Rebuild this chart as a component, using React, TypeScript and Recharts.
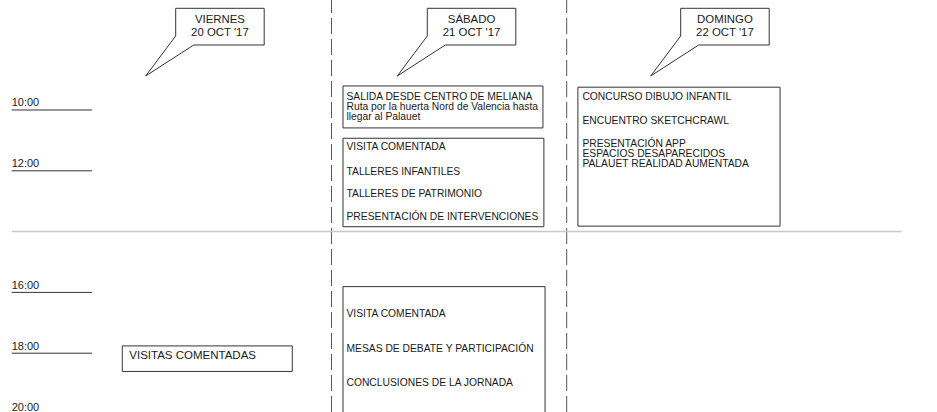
import {
  ComposedChart,
  XAxis,
  YAxis,
  ReferenceLine,
  ReferenceArea,
  Line,
  Scatter
} from "recharts";

const FONT = "'Liberation Sans', Arial, Helvetica, sans-serif";

// days of the programme (one column each)
const dayNames = ["VIERNES", "SÁBADO", "DOMINGO"];
const dayDates = ["20 OCT '17", "21 OCT '17", "22 OCT '17"];

// hour guides on the left
const hourTicks = [10, 12, 16, 18, 20];
const hourLabels = ["10:00", "12:00", "16:00", "18:00", "20:00"];
const breakHour = 14;

// time blocks: day index, start hour, end hour
const blockDays = [0, 1, 1, 2, 1];
const blockStarts = [17.76, 9.21, 10.93, 9.25, 15.81];
const blockEnds = [18.6, 10.59, 13.84, 13.82, 20.6];

// activities inside the blocks
const activityBlocks = [0, 1, 2, 2, 2, 2, 3, 3, 3, 4, 4, 4];
const activityHours = [18.06, 9.54, 11.21, 12.0, 12.74, 13.51, 9.54, 10.33, 11.1, 16.69, 17.84, 18.97];
const activityLabels = [
  ["VISITAS COMENTADAS"],
  ["SALIDA DESDE CENTRO DE MELIANA", "Ruta por la huerta Nord de Valencia hasta", "llegar al Palauet"],
  ["VISITA COMENTADA"],
  ["TALLERES INFANTILES"],
  ["TALLERES DE PATRIMONIO"],
  ["PRESENTACIÓN DE INTERVENCIONES"],
  ["CONCURSO DIBUJO INFANTIL"],
  ["ENCUENTRO SKETCHCRAWL"],
  ["PRESENTACIÓN APP", "ESPACIOS DESAPARECIDOS", "PALAUET REALIDAD AUMENTADA"],
  ["VISITA COMENTADA"],
  ["MESAS DE DEBATE Y PARTICIPACIÓN"],
  ["CONCLUSIONES DE LA JORNADA"]
];

// ---- layout (axis units: days on x, hours on y) ----
const X_DOMAIN = [-0.4094, 3.5744];
const Y_DOMAIN = [6.382, 19.934];
const TICK_SPAN = [-0.3597, -0.0183];
const BREAK_SPAN = [-0.3584, 3.4243];
const blockInsets = [
  [0.1105, 0.8333],
  [0.0489, 0.899],
  [0.0489, 0.903],
  [0.0476, 0.907],
  [0.0489, 0.908]
];
const blockTextPad = [7, 3.5, 3.5, 4.5, 3.5];
const blockTextSize = [11.5, 10.3, 10.3, 10.3, 10.3];

const calloutLeft = [0.3376, 1.4073, 2.4847];
const CALLOUT = {
  width: 0.3763,
  top: 6.655,
  bottom: 7.862,
  joinY: 7.566,
  joinX: 0.0765,
  tipX: -0.1276,
  tipY: 8.882,
  textY: 7.0
};

const hourData = hourTicks.map((h, i) => ({ x: TICK_SPAN[0], y: h, label: hourLabels[i] }));

const activityData = activityHours.map((h, i) => {
  const b = activityBlocks[i];
  return {
    x: blockDays[b] + blockInsets[b][0],
    y: h,
    lines: activityLabels[i],
    pad: blockTextPad[b],
    size: blockTextSize[b]
  };
});

const calloutText = dayNames.map((name, i) => ({
  x: calloutLeft[i] + CALLOUT.width / 2,
  y: CALLOUT.textY,
  lines: [name, dayDates[i]]
}));

const calloutOutline = (left: number) => [
  { x: left, y: CALLOUT.joinY },
  { x: left, y: CALLOUT.top },
  { x: left + CALLOUT.width, y: CALLOUT.top },
  { x: left + CALLOUT.width, y: CALLOUT.bottom },
  { x: left + CALLOUT.joinX, y: CALLOUT.bottom },
  { x: left + CALLOUT.tipX, y: CALLOUT.tipY },
  { x: left, y: CALLOUT.joinY }
];

const HourText = (props: any) => {
  const { cx, cy, payload } = props;
  return (
    <text x={cx} y={cy - 3.5} fontSize={11} fill="#222" fontFamily={FONT}>
      {payload.label}
    </text>
  );
};

const ActivityText = (props: any) => {
  const { cx, cy, payload } = props;
  const x = cx + payload.pad;
  return (
    <text x={x} y={cy} fontSize={payload.size} fill="#1a1a1a" fontFamily={FONT}>
      {payload.lines.map((line: string, i: number) => (
        <tspan key={i} x={x} dy={i === 0 ? "0.36em" : 10}>
          {line}
        </tspan>
      ))}
    </text>
  );
};

const CalloutText = (props: any) => {
  const { cx, cy, payload } = props;
  return (
    <text x={cx} y={cy} fontSize={11.4} fill="#1a1a1a" fontFamily={FONT} textAnchor="middle">
      {payload.lines.map((line: string, i: number) => (
        <tspan key={i} x={cx} dy={i === 0 ? "0.36em" : 13.3}>
          {line}
        </tspan>
      ))}
    </text>
  );
};

export default function App() {
  return (
    <div style={{ position: "absolute", left: 0, top: 0, width: 937, height: 412, background: "#fff" }}>
      <ComposedChart width={937} height={412} margin={{ top: 0, right: 0, bottom: 0, left: 0 }}>
        <XAxis type="number" dataKey="x" domain={X_DOMAIN} allowDataOverflow hide />
        <YAxis type="number" domain={Y_DOMAIN} allowDataOverflow reversed hide />

        {[1, 2].map((d) => (
          <ReferenceLine key={d} x={d} stroke="#555" strokeDasharray="16 5" ifOverflow="visible" />
        ))}

        <ReferenceLine
          segment={[
            { x: BREAK_SPAN[0], y: breakHour },
            { x: BREAK_SPAN[1], y: breakHour }
          ]}
          stroke="#c8c8c8"
          strokeWidth={1.5}
          ifOverflow="visible"
        />

        {hourTicks.map((h) => (
          <ReferenceLine
            key={h}
            segment={[
              { x: TICK_SPAN[0], y: h },
              { x: TICK_SPAN[1], y: h }
            ]}
            stroke="#333"
            ifOverflow="visible"
          />
        ))}

        {blockDays.map((d, i) => (
          <ReferenceArea
            key={i}
            x1={d + blockInsets[i][0]}
            x2={d + blockInsets[i][1]}
            y1={blockStarts[i]}
            y2={blockEnds[i]}
            fill="#fff"
            fillOpacity={1}
            stroke="#333"
            strokeWidth={1}
            ifOverflow="hidden"
          />
        ))}

        {calloutLeft.map((left, i) => (
          <Line
            key={"callout" + i}
            data={calloutOutline(left)}
            dataKey="y"
            type="linear"
            stroke="#333"
            strokeWidth={1}
            dot={false}
            activeDot={false}
            isAnimationActive={false}
          />
        ))}

        <Scatter data={hourData} dataKey="y" shape={HourText} isAnimationActive={false} />
        <Scatter data={activityData} dataKey="y" shape={ActivityText} isAnimationActive={false} />
        <Scatter data={calloutText} dataKey="y" shape={CalloutText} isAnimationActive={false} />
      </ComposedChart>
    </div>
  );
}
